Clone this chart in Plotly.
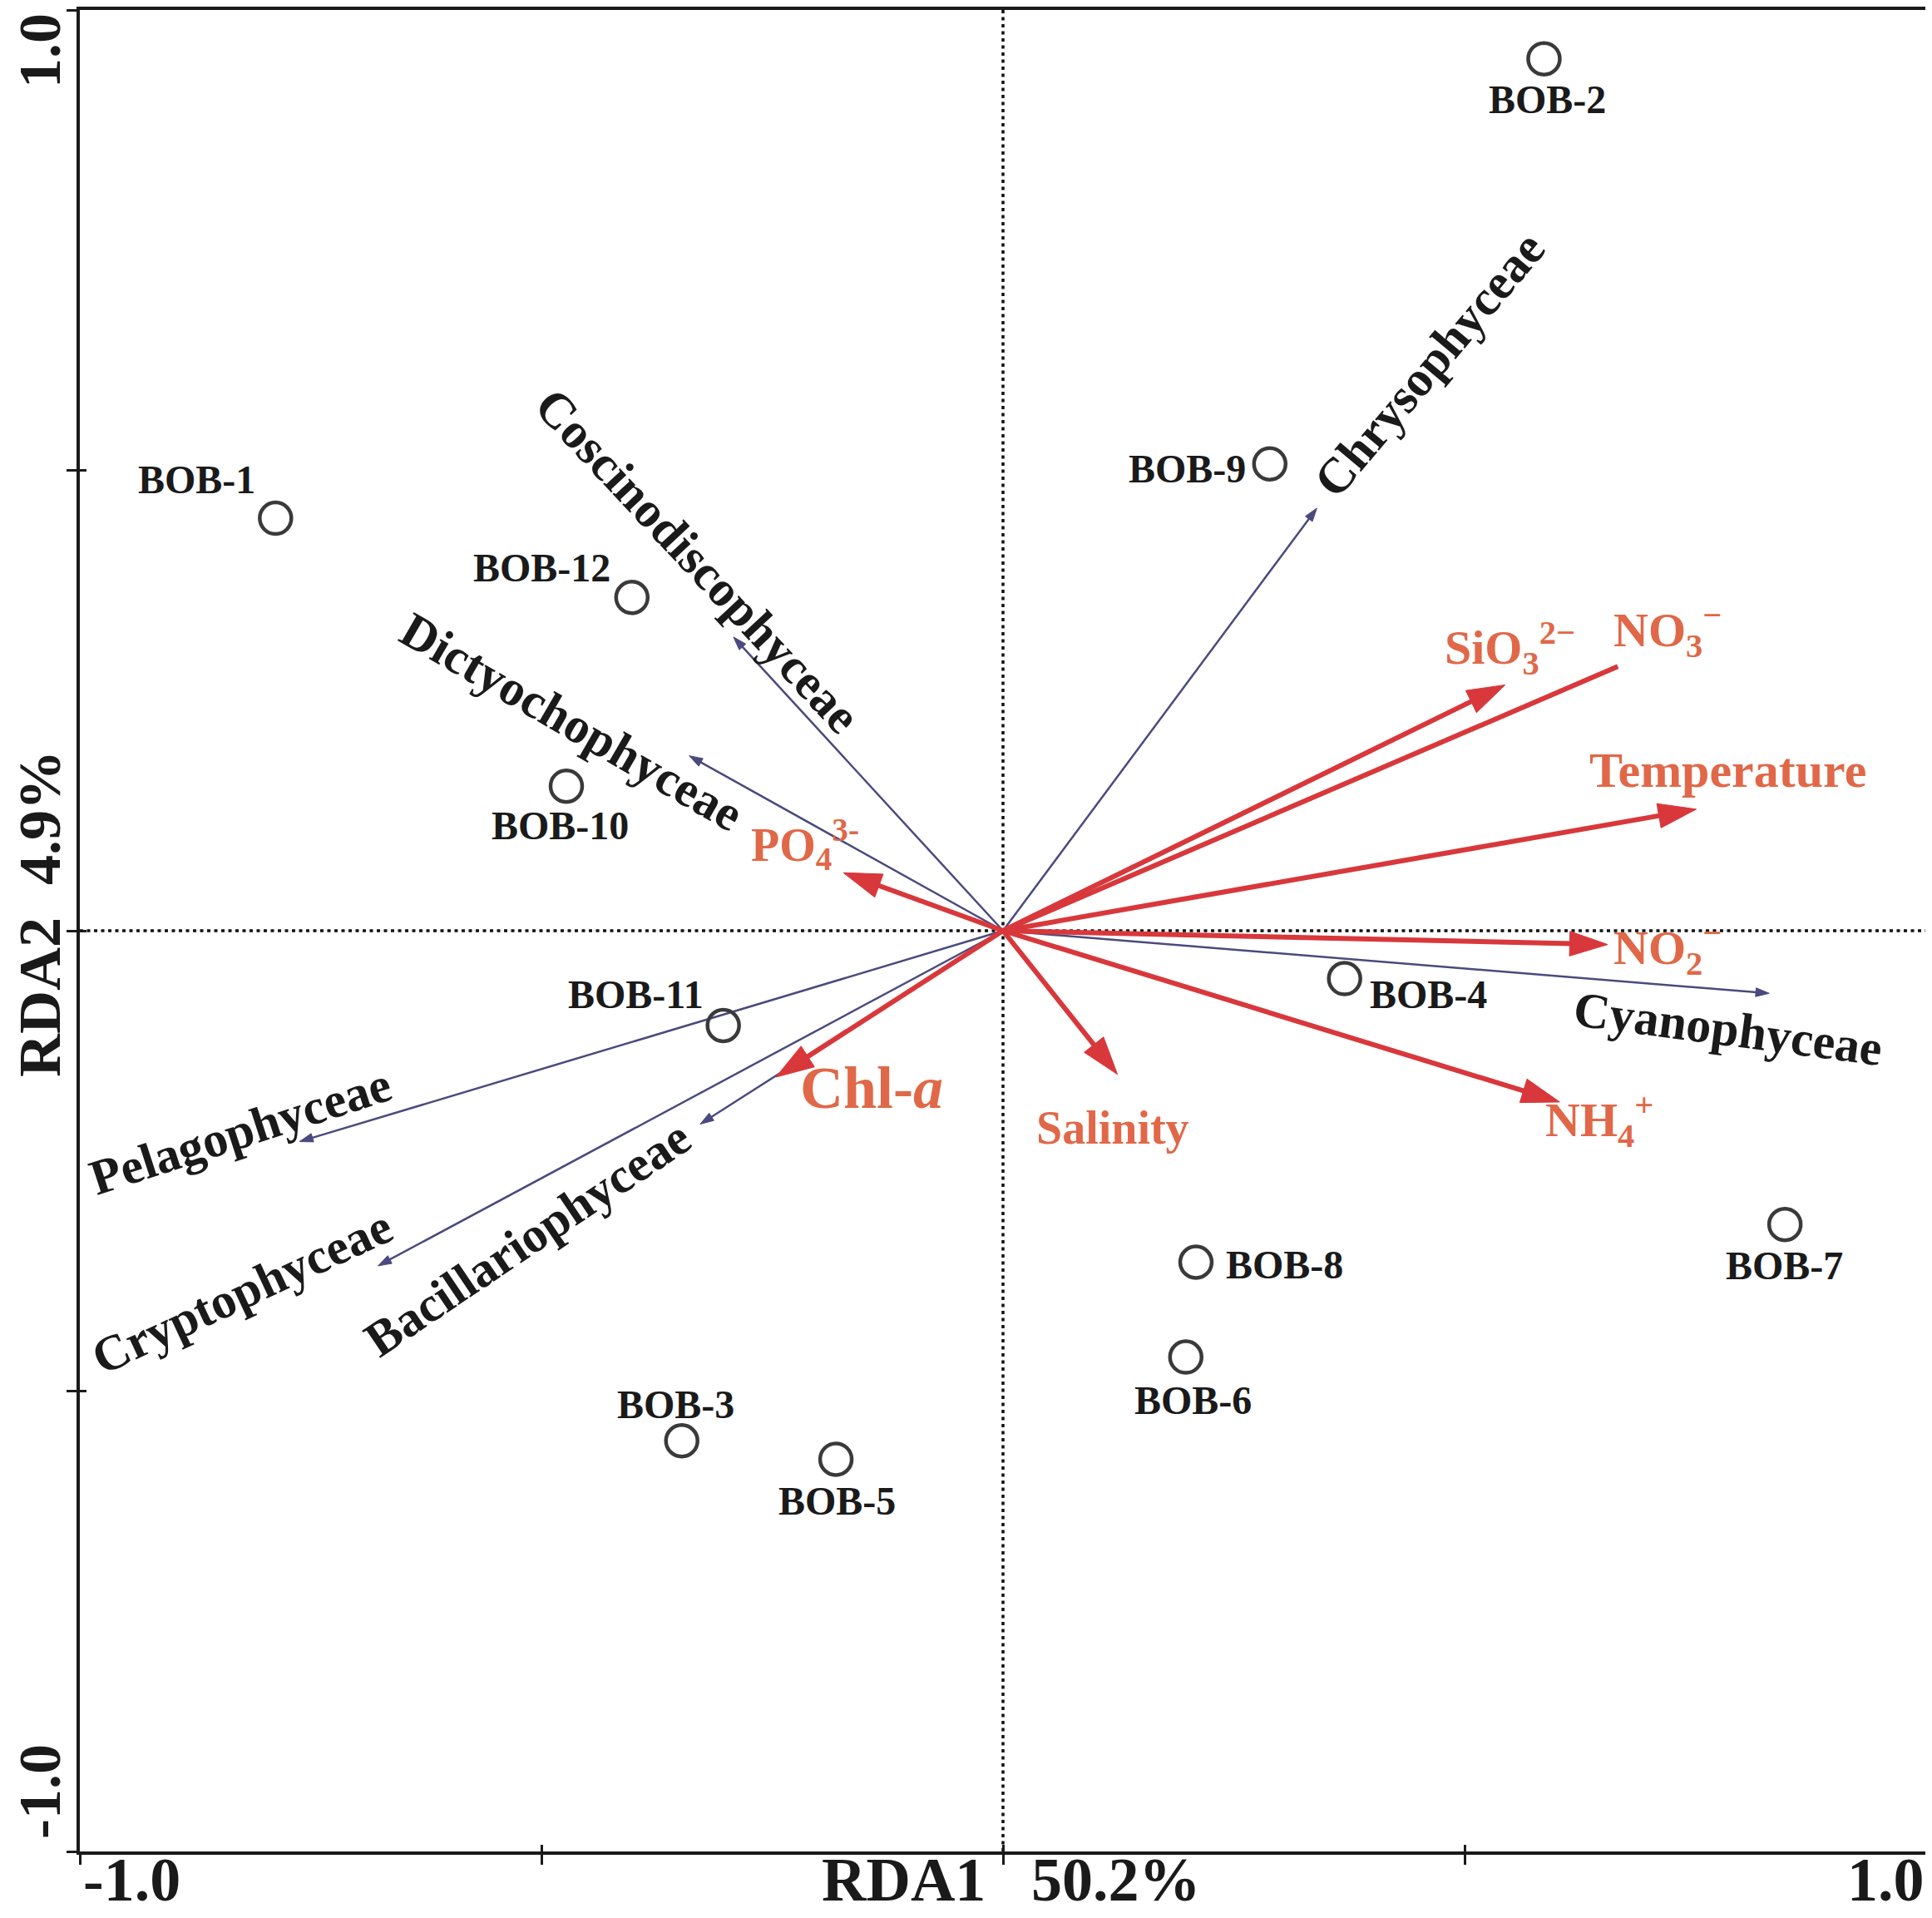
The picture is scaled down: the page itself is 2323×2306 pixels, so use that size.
import plotly.graph_objects as go

# ── RDA scores ──────────────────────────────────────────────────────────
sites = ["BOB-1", "BOB-2", "BOB-3", "BOB-4", "BOB-5", "BOB-6",
         "BOB-7", "BOB-8", "BOB-9", "BOB-10", "BOB-11", "BOB-12"]
site_x = [-0.788, 0.586, -0.348, 0.370, -0.181, 0.198,
          0.847, 0.209, 0.289, -0.473, -0.303, -0.402]
site_y = [0.448, 0.947, -0.554, -0.052, -0.574, -0.463,
          -0.319, -0.360, 0.507, 0.157, -0.103, 0.362]

species = ["Chrysophyceae", "Coscinodiscophyceae", "Dictyochophyceae",
           "Cyanophyceae", "Pelagophyceae", "Cryptophyceae", "Bacillariophyceae"]
species_x = [0.340, -0.292, -0.340, 0.830, -0.762, -0.677, -0.328]
species_y = [0.459, 0.319, 0.190, -0.068, -0.229, -0.364, -0.210]

env = ["SiO3", "NO3", "Temperature", "NO2", "NH4", "Salinity", "Chl-a", "PO4"]
env_x = [0.544, 0.666, 0.751, 0.655, 0.603, 0.124, -0.246, -0.173]
env_y = [0.267, 0.287, 0.132, -0.015, -0.186, -0.156, -0.159, 0.063]

env_text = {
    "SiO3": "SiO<sub>3</sub><sup>2−</sup>",
    "NO3": "NO<sub>3</sub><sup>−</sup>",
    "Temperature": "Temperature",
    "NO2": "NO<sub>2</sub><sup>−</sup>",
    "NH4": "NH<sub>4</sub><sup>+</sup>",
    "Salinity": "Salinity",
    "Chl-a": "Chl-<i>a</i>",
    "PO4": "PO<sub>4</sub><sup>3-</sup>",
}

x_axis_title = ["RDA1", "50.2%"]
y_axis_title = ["RDA2", "4.9%"]

# ── styling ─────────────────────────────────────────────────────────────
FONT = "Liberation Serif"
TEXT = "#1a1a1a"
SP_LINE = "#4a4a7e"
ENV_LINE = "#d8383b"
ENV_TEXT = "#e06848"
CIRCLE = "#3a3a3a"

# label placement (pixel offsets from the site marker)
site_shift = [(-95, 47), (4, -49), (-7, 44), (101, -19), (1, -50), (9, -52),
              (-1, -49), (107, -3), (-99, -6), (-7, -47), (-105, 38), (-108, 36)]
# species label centre (data units) and rotation
species_lab = [(0.462, 0.615, -50), (-0.331, 0.402, 47), (-0.467, 0.227, 30),
               (0.785, -0.107, 7.5), (-0.826, -0.218, -18), (-0.824, -0.392, -25),
               (-0.515, -0.334, -34)]
env_lab = [(0.549, 0.307), (0.720, 0.326), (0.785, 0.174), (0.720, -0.019),
           (0.646, -0.206), (0.119, -0.214), (-0.142, -0.171), (-0.214, 0.094)]
env_size = [58, 58, 60, 58, 58, 56, 72, 56]
no_head = {"NO3"}

fig = go.Figure()

# ── species arrows (thin) ───────────────────────────────────────────────
for ex, ey in zip(species_x, species_y):
    fig.add_trace(go.Scatter(
        x=[0, ex], y=[0, ey], mode="lines+markers",
        line=dict(color=SP_LINE, width=2.5),
        marker=dict(symbol="arrow", size=[0, 17], angleref="previous", opacity=1,
                    color=SP_LINE, line=dict(width=1, color=SP_LINE)),
        hoverinfo="skip", showlegend=False,
    ))

# ── environmental arrows (thick red) ────────────────────────────────────
for name, ex, ey in zip(env, env_x, env_y):
    head = 0 if name in no_head else 48
    fig.add_trace(go.Scatter(
        x=[0, ex], y=[0, ey], mode="lines+markers",
        line=dict(color=ENV_LINE, width=6),
        marker=dict(symbol="arrow", size=[0, head], angleref="previous", opacity=1,
                    color=ENV_LINE, line=dict(width=1, color=ENV_LINE)),
        hoverinfo="skip", showlegend=False,
    ))

# ── sites ───────────────────────────────────────────────────────────────
fig.add_trace(go.Scatter(
    x=site_x, y=site_y, mode="markers",
    marker=dict(symbol="circle-open", size=38, color=CIRCLE, line=dict(width=4.5)),
    text=sites, hovertemplate="%{text}<extra></extra>", showlegend=False,
))

# dummy trace so the inner-tick axes get drawn
fig.add_trace(go.Scatter(x=[0], y=[0], xaxis="x2", yaxis="y2", mode="markers",
                         marker=dict(opacity=0), hoverinfo="skip", showlegend=False))

# ── dotted zero lines ───────────────────────────────────────────────────
zl = dict(color="#111111", width=3.5, dash="4px,4.5px")
fig.add_hline(y=0, line=zl, layer="below")
fig.add_vline(x=0, line=zl, layer="below")

# ── text ────────────────────────────────────────────────────────────────
ann = []
for name, sx, sy, (dx, dy) in zip(sites, site_x, site_y, site_shift):
    ann.append(dict(x=sx, y=sy, text=name, showarrow=False, xshift=dx, yshift=dy,
                    font=dict(family=FONT, size=48, color=TEXT, weight="bold")))

for name, (lx, ly, ang) in zip(species, species_lab):
    ann.append(dict(x=lx, y=ly, text=name, showarrow=False, textangle=ang,
                    font=dict(family=FONT, size=60, color=TEXT, weight="bold")))

for name, (lx, ly), fs in zip(env, env_lab, env_size):
    ann.append(dict(x=lx, y=ly, text=env_text[name], showarrow=False,
                    font=dict(family=FONT, size=fs, color=ENV_TEXT, weight="bold")))

axis_font = dict(family=FONT, size=74, color=TEXT, weight="bold")
# x tick labels + title
xl = dict(xref="x", yref="paper", y=0, showarrow=False, yanchor="middle", yshift=-34,
          font=axis_font)
ann.append(dict(xl, x=-1, text="-1.0", xanchor="left", xshift=2))
ann.append(dict(xl, x=1, text="1.0", xanchor="right"))
ann.append(dict(xl, x=0, text=x_axis_title[0], xanchor="center", xshift=-120))
ann.append(dict(xl, x=0, text=x_axis_title[1], xanchor="center", xshift=136))
# y tick labels + title (rotated)
yl = dict(xref="paper", x=0, showarrow=False, textangle=-90, xanchor="center",
          yanchor="middle", xshift=-48, font=dict(axis_font, size=72))
ann.append(dict(yl, yref="paper", y=1, text="1.0", yshift=-49))
ann.append(dict(yl, yref="paper", y=0, text="-1.0", yshift=72))
ann.append(dict(yl, yref="y", y=0, text=y_axis_title[0], yshift=-80))
ann.append(dict(yl, yref="y", y=0, text=y_axis_title[1], yshift=136))

ticks = [-1, -0.5, 0, 0.5, 1]
ax = dict(range=[-1, 1], showgrid=False, zeroline=False, showticklabels=False,
          tickvals=ticks)
# page body adds an 8px offset, so the figure is sized to fit inside the window
fig.update_layout(
    width=2315, height=2298,
    margin=dict(l=88, r=7, t=0, b=80),
    plot_bgcolor="white", paper_bgcolor="white",
    xaxis=dict(**ax, showline=True, mirror=True, linecolor=TEXT, linewidth=4,
               ticks="outside", ticklen=12, tickwidth=3, tickcolor=TEXT),
    yaxis=dict(**ax, showline=True, mirror=True, linecolor=TEXT, linewidth=4,
               ticks="outside", ticklen=12, tickwidth=3, tickcolor=TEXT),
    xaxis2=dict(**ax, overlaying="x", side="bottom", showline=False,
                ticks="inside", ticklen=8, tickwidth=3, tickcolor=TEXT),
    yaxis2=dict(**ax, overlaying="y", side="left", showline=False,
                ticks="inside", ticklen=8, tickwidth=3, tickcolor=TEXT),
    annotations=ann,
    showlegend=False,
)

fig.write_html("out.html")
